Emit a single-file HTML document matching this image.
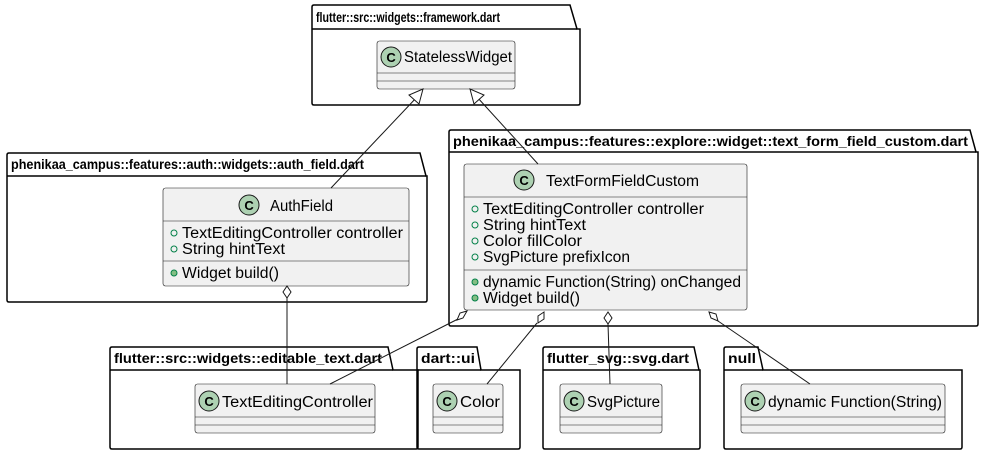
<!DOCTYPE html>
<html><head><style>
body{margin:0;background:#fff}
svg text{font-family:"Liberation Sans",sans-serif;fill:#000}
.pk{font-weight:bold;font-size:13.5px}
.cn{font-size:15.5px}
.m{font-size:15.5px}
</style></head><body>
<svg width="985" height="455" xmlns="http://www.w3.org/2000/svg">
<defs>
<g id="ci"><circle r="10" fill="#ADD1B2" stroke="#181818" stroke-width="1"/><text x="0" y="5" text-anchor="middle" style="font-weight:bold;font-size:13px">C</text></g>
</defs>
<g fill="none" stroke="#000" stroke-width="1.5">
<path d="M312,29 V7 Q312,5 314,5 H570 L577,29 H580 V103 Q580,105 578,105 H314 Q312,105 312,103 Z"/><line x1="312" y1="29" x2="577" y2="29"/>
<path d="M7,176 V155 Q7,153 9,153 H420 L426,176 H427 V300 Q427,302 425,302 H9 Q7,302 7,300 Z"/><line x1="7" y1="176" x2="426" y2="176"/>
<path d="M449,152 V132 Q449,130 451,130 H970 L976,152 H978 V324 Q978,326 976,326 H451 Q449,326 449,324 Z"/><line x1="449" y1="152" x2="976" y2="152"/>
<path d="M110,370 V349 Q110,347 112,347 H388 L393,370 H418 V447 Q418,449 416,449 H112 Q110,449 110,447 Z"/><line x1="110" y1="370" x2="393" y2="370"/>
<path d="M417,370 V349 Q417,347 419,347 H477 L481,370 H520 V447 Q520,449 518,449 H419 Q417,449 417,447 Z"/><line x1="417" y1="370" x2="481" y2="370"/>
<path d="M543,370 V349 Q543,347 545,347 H694 L699,370 H700 V447 Q700,449 698,449 H545 Q543,449 543,447 Z"/><line x1="543" y1="370" x2="699" y2="370"/>
<path d="M724,370 V349 Q724,347 726,347 H758 L763,370 H962 V447 Q962,449 960,449 H726 Q724,449 724,447 Z"/><line x1="724" y1="370" x2="763" y2="370"/>
</g>
<text class="pk" x="316" y="22" textLength="184" lengthAdjust="spacingAndGlyphs">flutter::src::widgets::framework.dart</text>
<text class="pk" x="11" y="169" textLength="353" lengthAdjust="spacingAndGlyphs">phenikaa_campus::features::auth::widgets::auth_field.dart</text>
<text class="pk" x="453" y="146" textLength="515" lengthAdjust="spacingAndGlyphs">phenikaa_campus::features::explore::widget::text_form_field_custom.dart</text>
<text class="pk" x="114" y="363" textLength="268" lengthAdjust="spacingAndGlyphs">flutter::src::widgets::editable_text.dart</text>
<text class="pk" x="421" y="363" textLength="54" lengthAdjust="spacingAndGlyphs">dart::ui</text>
<text class="pk" x="547" y="363" textLength="142" lengthAdjust="spacingAndGlyphs">flutter_svg::svg.dart</text>
<text class="pk" x="728" y="363" textLength="28" lengthAdjust="spacingAndGlyphs">null</text>
<g fill="#F1F1F1" stroke="#181818" stroke-width="0.6">
<rect x="377" y="41" width="138" height="48" rx="2.5"/>
<rect x="163" y="188" width="246" height="98" rx="2.5"/>
<rect x="464" y="164" width="283" height="146" rx="2.5"/>
<rect x="195" y="384" width="180" height="49" rx="2.5"/>
<rect x="433" y="384" width="70" height="49" rx="2.5"/>
<rect x="560" y="384" width="102" height="49" rx="2.5"/>
<rect x="741" y="384" width="204" height="49" rx="2.5"/>
</g>
<g stroke="#181818" stroke-width="0.6">
<line x1="377" y1="73" x2="515" y2="73"/><line x1="377" y1="81" x2="515" y2="81"/>
<line x1="163" y1="221" x2="409" y2="221"/><line x1="163" y1="261" x2="409" y2="261"/>
<line x1="464" y1="197" x2="747" y2="197"/><line x1="464" y1="270" x2="747" y2="270"/>
<line x1="195" y1="417" x2="375" y2="417"/><line x1="195" y1="425" x2="375" y2="425"/>
<line x1="433" y1="417" x2="503" y2="417"/><line x1="433" y1="425" x2="503" y2="425"/>
<line x1="560" y1="417" x2="662" y2="417"/><line x1="560" y1="425" x2="662" y2="425"/>
<line x1="741" y1="417" x2="945" y2="417"/><line x1="741" y1="425" x2="945" y2="425"/>
</g>
<use href="#ci" x="391" y="57"/><text class="cn" x="404" y="62" textLength="108" lengthAdjust="spacingAndGlyphs">StatelessWidget</text>
<use href="#ci" x="249" y="205"/><text class="cn" x="270" y="211" textLength="63" lengthAdjust="spacingAndGlyphs">AuthField</text>
<use href="#ci" x="524" y="180"/><text class="cn" x="546" y="186" textLength="153" lengthAdjust="spacingAndGlyphs">TextFormFieldCustom</text>
<use href="#ci" x="209" y="401"/><text class="cn" x="222" y="407" textLength="151" lengthAdjust="spacingAndGlyphs">TextEditingController</text>
<use href="#ci" x="447" y="401"/><text class="cn" x="460" y="407" textLength="40" lengthAdjust="spacingAndGlyphs">Color</text>
<use href="#ci" x="574" y="401"/><text class="cn" x="587" y="407" textLength="73" lengthAdjust="spacingAndGlyphs">SvgPicture</text>
<use href="#ci" x="755" y="401"/><text class="cn" x="768" y="407" textLength="174" lengthAdjust="spacingAndGlyphs">dynamic Function(String)</text>
<g fill="none" stroke="#038048" stroke-width="1">
<circle cx="174" cy="233" r="3"/><circle cx="174" cy="249" r="3"/>
<circle cx="475" cy="209" r="3"/><circle cx="475" cy="225" r="3"/><circle cx="475" cy="241" r="3"/><circle cx="475" cy="257" r="3"/>
</g>
<g fill="#84BE84" stroke="#038048" stroke-width="1">
<circle cx="174" cy="273" r="3"/><circle cx="475" cy="282" r="3"/><circle cx="475" cy="298" r="3"/>
</g>
<text class="m" x="182" y="238" textLength="221" lengthAdjust="spacingAndGlyphs">TextEditingController controller</text>
<text class="m" x="182" y="254" textLength="103" lengthAdjust="spacingAndGlyphs">String hintText</text>
<text class="m" x="182" y="278" textLength="97" lengthAdjust="spacingAndGlyphs">Widget build()</text>
<text class="m" x="483" y="214" textLength="221" lengthAdjust="spacingAndGlyphs">TextEditingController controller</text>
<text class="m" x="483" y="230" textLength="103" lengthAdjust="spacingAndGlyphs">String hintText</text>
<text class="m" x="483" y="246" textLength="99" lengthAdjust="spacingAndGlyphs">Color fillColor</text>
<text class="m" x="483" y="262" textLength="147" lengthAdjust="spacingAndGlyphs">SvgPicture prefixIcon</text>
<text class="m" x="483" y="287" textLength="258" lengthAdjust="spacingAndGlyphs">dynamic Function(String) onChanged</text>
<text class="m" x="483" y="303" textLength="97" lengthAdjust="spacingAndGlyphs">Widget build()</text>
<g stroke="#181818" stroke-width="1" fill="none">
<line x1="331" y1="188" x2="417" y2="97"/>
<polygon points="423,89 409,95 419,104" fill="#fff"/>
<line x1="538" y1="164" x2="477" y2="97"/>
<polygon points="470,89 474,104 484,95" fill="#fff"/>
<line x1="287" y1="298" x2="287" y2="384"/>
<polygon points="287,286 291,292 287,298 283,292" fill="#fff"/>
<line x1="458" y1="319" x2="330" y2="384"/>
<polygon points="467,311 463,318 457,320 460,313" fill="#fff"/>
<line x1="537" y1="323" x2="487" y2="384"/>
<polygon points="544,312 544,319 538,323 538,316" fill="#fff"/>
<line x1="608" y1="324" x2="610" y2="384"/>
<polygon points="608,312 612,318 608,324 604,318" fill="#fff"/>
<line x1="718" y1="321" x2="810" y2="384"/>
<polygon points="709,312 716,314 718,321 711,318" fill="#fff"/>
</g>
</svg>
</body></html>
